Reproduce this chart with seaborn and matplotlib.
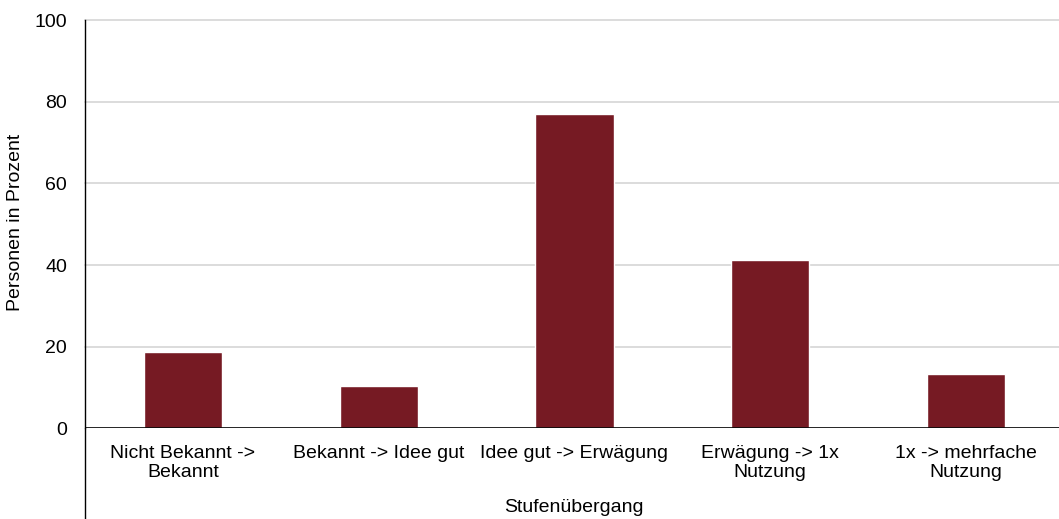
import matplotlib
matplotlib.use("Agg")
import matplotlib.pyplot as plt
from matplotlib.lines import Line2D
import seaborn as sns
import pandas as pd

# Übergänge zwischen den Stufen und Anteil der Personen (%)
categories = [
    "Nicht Bekannt ->\nBekannt",
    "Bekannt -> Idee gut",
    "Idee gut -> Erwägung",
    "Erwägung -> 1x\nNutzung",
    "1x -> mehrfache\nNutzung",
]
values = [18.6, 10.3, 77.0, 41.2, 13.3]
y_ticks = [0, 20, 40, 60, 80, 100]

df = pd.DataFrame({"Stufe": categories, "Prozent": values})

sns.set_theme(style="white")
plt.rcParams["font.family"] = ["Liberation Sans", "DejaVu Sans"]

FS = 14
W, H = 1059, 519
fig = plt.figure(figsize=(W / 100, H / 100), dpi=100)
left, right, top, bottom = 85, 1064, 20.3, 428.3
ax = fig.add_axes([left / W, (H - bottom) / H, (right - left) / W, (bottom - top) / H])

sns.barplot(data=df, x="Stufe", y="Prozent", color="#761A23", width=0.4,
            saturation=1, ax=ax, zorder=3)

ax.set_ylim(0, 100)
ax.set_yticks(y_ticks)
ax.set_xlim(-0.5, len(categories) - 0.5)
for y in y_ticks[1:]:
    ax.axhline(y, color="#d9d9d9", lw=1.3, zorder=1, clip_on=False,
               xmax=(W - left) / (right - left))
ax.axhline(0, color="black", lw=1.2, zorder=4)

for s in ["top", "right", "bottom"]:
    ax.spines[s].set_visible(False)
ax.spines["left"].set_color("black")
ax.spines["left"].set_linewidth(1.0)
# the value axis line continues down through the category label area
fig.add_artist(Line2D([left / W, left / W], [0, (H - bottom) / H],
                      color="black", lw=1.0, transform=fig.transFigure))

ax.tick_params(axis="both", length=0, labelsize=FS, colors="black")
ax.tick_params(axis="y", pad=13)
ax.tick_params(axis="x", pad=12)
for lbl in ax.get_xticklabels():
    lbl.set_linespacing(1.12)
ax.set_ylabel("")
ax.set_xlabel("")
fig.text(16 / W, 1 - 222 / H, "Personen in Prozent", rotation=90,
         ha="center", va="center", fontsize=FS, color="black")
fig.text(574 / W, 1 - 508 / H, "Stufenübergang",
         ha="center", va="center", fontsize=FS, color="black")

fig.savefig("out.png", dpi=100)
